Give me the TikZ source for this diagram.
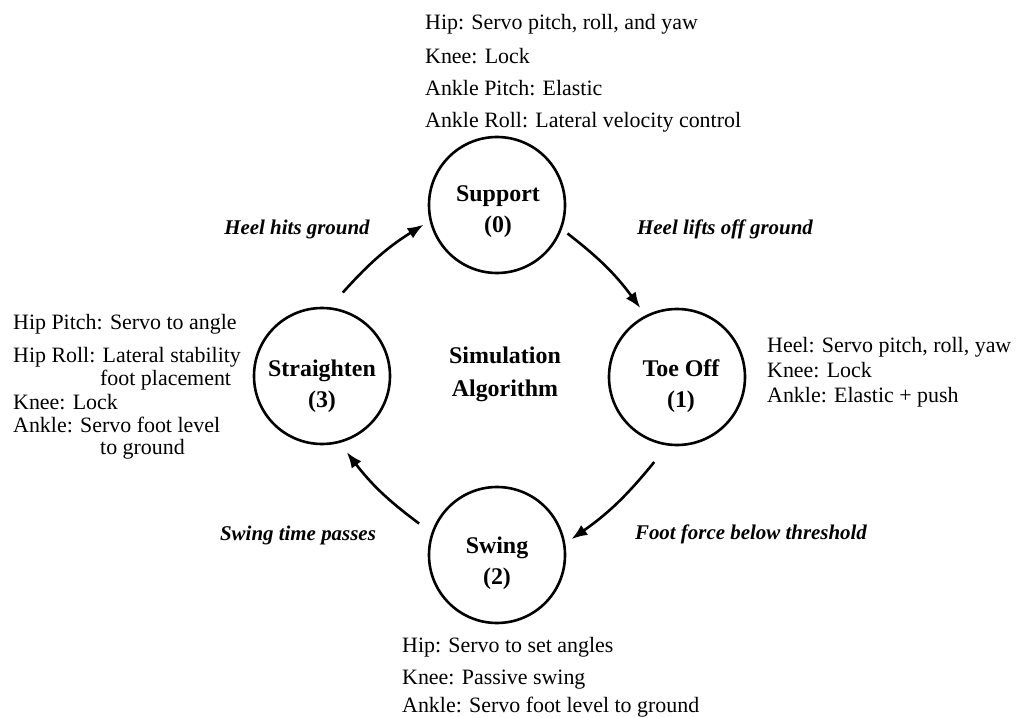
\documentclass[tikz,border=0pt]{standalone}
\usepackage{fontspec}
\setmainfont{Liberation Serif}
\usetikzlibrary{arrows.meta}
\begin{document}
\begin{tikzpicture}[x=1bp,y=-1bp,
  state/.style={circle,draw,line width=2.6bp,minimum size=136bp,inner sep=0pt},
  slabel/.style={align=center,inner sep=0pt,font=\fontsize{24}{31}\selectfont\bfseries},
  info/.style={anchor=base west,inner sep=0pt,font=\fontsize{22}{24}\selectfont},
  trans/.style={inner sep=0pt,font=\fontsize{21}{24}\selectfont\bfseries\itshape},
  flow/.style={line width=2.6bp,-{Latex[length=16bp,width=12bp]}}]
\useasboundingbox (0,0) rectangle (1020,718);
% states
\node[state] (sup) at (497,205) {};
\node[state] (toe) at (677,377) {};
\node[state] (swi) at (497,555) {};
\node[state] (str) at (322,376) {};
\node[slabel] (supl) at (498,212) {Support\\(0)};
\node[slabel] (toel) at (681,386) {Toe Off\\(1)};
\node[slabel] (swil) at (497,563) {Swing\\(2)};
\node[slabel] (strl) at (322,386) {Straighten\\(3)};
\node[slabel,font=\fontsize{24}{33}\selectfont\bfseries] (alg) at (505,374) {Simulation\\Algorithm};
% arrows between states
\draw[flow] ([shift={(22:76)}]sup.center) to[bend left=8] ([shift={(-118:78)}]toe.center);
\draw[flow] ([shift={(105:88)}]toe.center) to[bend left=8] ([shift={(-12:76)}]swi.center);
\draw[flow] ([shift={(-158:84)}]swi.center) to[bend left=8] ([shift={(72:80)}]str.center);
\draw[flow] ([shift={(-76:86)}]str.center) to[bend left=8] ([shift={(165:76)}]sup.center);
% transition labels
\node[trans] (t1) at (725,229) {Heel lifts off ground};
\node[trans] (t2) at (751,534) {Foot force below threshold};
\node[trans] (t3) at (298,535) {Swing time passes};
\node[trans] (t4) at (297,229) {Heel hits ground};
% top block
\node[info] (u1) at (425,30) {Hip: Servo pitch, roll, and yaw};
\node[info] (u2) at (425,64) {Knee: Lock};
\node[info] (u3) at (425,96) {Ankle Pitch: Elastic};
\node[info] (u4) at (425,128) {Ankle Roll: Lateral velocity control};
% right block
\node[info] (r1) at (767,352) {Heel: Servo pitch, roll, yaw};
\node[info] (r2) at (767,377) {Knee: Lock};
\node[info] (r3) at (767,402) {Ankle: Elastic + push};
% bottom block
\node[info] (b1) at (402,652) {Hip: Servo to set angles};
\node[info] (b2) at (402,684) {Knee: Passive swing};
\node[info] (b3) at (402,712) {Ankle: Servo foot level to ground};
% left block
\node[info] (l1) at (13,329) {Hip Pitch: Servo to angle};
\node[info] (l2) at (13,362) {Hip Roll: Lateral stability};
\node[info] (l3) at (100,385) {foot placement};
\node[info] (l4) at (13,409) {Knee: Lock};
\node[info] (l5) at (13,432) {Ankle: Servo foot level};
\node[info] (l6) at (100,454) {to ground};
\end{tikzpicture}
\end{document}
